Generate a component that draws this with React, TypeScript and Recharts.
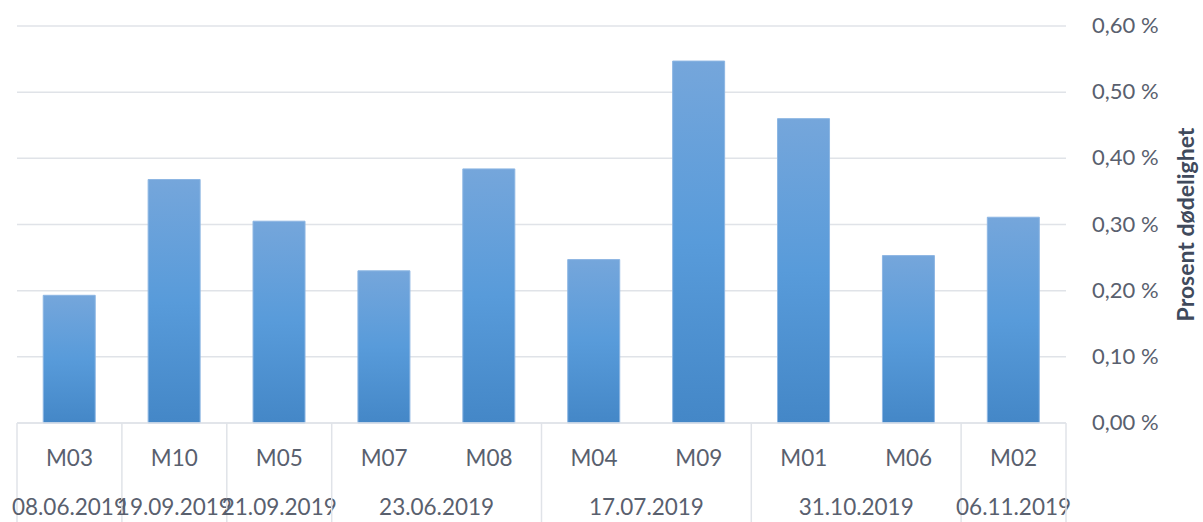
import React from 'react';
import { BarChart, Bar, XAxis, YAxis, CartesianGrid } from 'recharts';

const categories = ['M03', 'M10', 'M05', 'M07', 'M08', 'M04', 'M09', 'M01', 'M06', 'M02'];
const dates = ['08.06.2019', '19.09.2019', '21.09.2019', '23.06.2019', '23.06.2019', '17.07.2019', '17.07.2019', '31.10.2019', '31.10.2019', '06.11.2019'];
const mortality = [0.193, 0.368, 0.305, 0.23, 0.384, 0.247, 0.547, 0.46, 0.253, 0.311];
const yTicks = [0, 0.1, 0.2, 0.3, 0.4, 0.5, 0.6];
const axisTitle = 'Prosent dødelighet';

const data = categories.map((name, i) => ({ name, date: dates[i], value: mortality[i] }));

const W = 1203;
const H = 522;
const MARGIN = { top: 26, right: 0, bottom: 0, left: 17 };
const Y_AXIS_W = 137;
const X_AXIS_H = 99;
const PLOT_W = W - MARGIN.left - MARGIN.right - Y_AXIS_W;
const BAND = PLOT_W / categories.length;

const FONT = 'Lato, "Open Sans", sans-serif';
const TEXT = '#59606e';
const GRID = '#e0e3e8';

const fmt = (v: number) => v.toFixed(2).replace('.', ',') + '\u00a0%';

const XTick = (props: any) => {
  const { x, y, index } = props;
  const isStart = index === 0 || dates[index] !== dates[index - 1];
  let size = 1;
  while (index + size < dates.length && dates[index + size] === dates[index]) size++;
  const isLast = index === categories.length - 1;
  return (
    <g>
      <text x={x} y={y + 43} textAnchor="middle" fontFamily={FONT} fontSize={22.5} fill={TEXT}>
        {categories[index]}
      </text>
      {isStart && (
        <>
          <line x1={x - BAND / 2} x2={x - BAND / 2} y1={y} y2={H} stroke={GRID} strokeWidth={1.5} />
          <text x={x + ((size - 1) * BAND) / 2} y={y + 92} textAnchor="middle" fontFamily={FONT} fontSize={22.5} fill={TEXT}>
            {dates[index]}
          </text>
        </>
      )}
      {isLast && <line x1={x + BAND / 2} x2={x + BAND / 2} y1={y} y2={H} stroke={GRID} strokeWidth={1.5} />}
    </g>
  );
};

const YTick = (props: any) => {
  const { x, y, payload } = props;
  return (
    <text x={x} y={y + 7} textAnchor="start" fontFamily={FONT} fontSize={22} fill={TEXT}>
      {fmt(payload.value)}
    </text>
  );
};

const YTitle = (props: any) => {
  const vb = props.viewBox;
  const tx = vb.x + 128;
  const ty = vb.y + vb.height / 2;
  return (
    <text
      x={tx}
      y={ty}
      textAnchor="middle"
      transform={`rotate(-90 ${tx} ${ty})`}
      fontFamily={FONT}
      fontSize={23}
      fontWeight={700}
      fill="#404a5c"
    >
      {axisTitle}
    </text>
  );
};

export default function App() {
  return (
    <div style={{ position: 'absolute', left: 0, top: 0, width: W, height: H, background: '#fff' }}>
      <BarChart width={W} height={H} data={data} margin={MARGIN} barCategoryGap="25%">
        <defs>
          <linearGradient id="barGrad" x1="0" y1="0" x2="0" y2="1">
            <stop offset="0%" stopColor="#75a6db" />
            <stop offset="50%" stopColor="#589bda" />
            <stop offset="100%" stopColor="#4487c7" />
          </linearGradient>
        </defs>
        <CartesianGrid vertical={false} stroke={GRID} strokeWidth={1.5} />
        <XAxis
          dataKey="name"
          height={X_AXIS_H}
          interval={0}
          tickLine={false}
          tickSize={0}
          tickMargin={0}
          axisLine={{ stroke: GRID, strokeWidth: 1.5 }}
          tick={<XTick />}
        />
        <YAxis
          orientation="right"
          width={Y_AXIS_W}
          domain={[0, 0.6]}
          ticks={yTicks}
          axisLine={false}
          tickLine={false}
          tickSize={0}
          tickMargin={26}
          tick={<YTick />}
          label={<YTitle />}
        />
        <Bar dataKey="value" fill="url(#barGrad)" stroke="#8db6e3" strokeWidth={1} isAnimationActive={false} />
      </BarChart>
    </div>
  );
}
